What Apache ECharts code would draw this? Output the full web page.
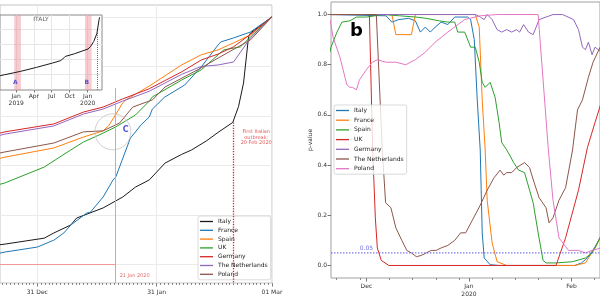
<!DOCTYPE html>
<html>
<head>
<meta charset="utf-8">
<script src="https://cdn.jsdelivr.net/npm/echarts@6/dist/echarts.min.js"></script>
<style>
  html, body { margin: 0; padding: 0; background: #fff; }
  #chart { width: 600px; height: 300px; }
</style>
</head>
<body>
<div id="chart"></div>
<script>
const FONT = 'DejaVu Sans';

const countries = ['Italy', 'France', 'Spain', 'UK', 'Germany', 'The Netherlands', 'Poland'];
const colorsA = ['#1a1a1a', '#1f77b4', '#ff7f0e', '#2ca02c', '#d62728', '#9467bd', '#8c564b'];
const colorsB = ['#1f77b4', '#ff7f0e', '#2ca02c', '#d62728', '#9467bd', '#8c564b', '#e377c2'];

// panel a : [days since 31 Dec 2019, normalised cumulative value]
const aItaly = [[-10,0.080],[-8.4,0.083],[1.8,0.107],[4.3,0.128],[8.7,0.160],[10.2,0.188],[17.1,0.229],[22.2,0.273],[25.5,0.313],[29.1,0.342],[33.2,0.41],[37.5,0.445],[40.1,0.463],[44,0.5],[47,0.534],[50.8,0.574],[52.3,0.638],[53.6,0.733],[54.9,0.919],[55.4,0.935],[61,1.0]];
const aFrance = [[-10,0.046],[-8.4,0.051],[0,0.071],[4.3,0.099],[6.9,0.128],[8.7,0.160],[12.8,0.208],[13.8,0.212],[17.1,0.273],[19.7,0.342],[20.4,0.354],[22,0.42],[24.2,0.511],[27,0.565],[29.1,0.596],[29.9,0.628],[33,0.675],[38.3,0.725],[42.6,0.798],[47,0.887],[47.7,0.899],[51,0.915],[55.4,0.939],[61,1.0]];
const aSpain = [[-10,0.428],[-8.4,0.434],[4.3,0.471],[12,0.515],[17.1,0.54],[18.5,0.56],[20,0.596],[22.2,0.653],[23,0.665],[29.1,0.721],[37.5,0.806],[42.6,0.847],[47,0.867],[51,0.895],[55.4,0.927],[61,1.0]];
const aUK = [[-10,0.323],[-8.4,0.33],[1.8,0.394],[8.7,0.463],[12,0.495],[17.1,0.531],[20.4,0.556],[25.5,0.604],[29.1,0.66],[29.9,0.677],[37.5,0.745],[42.6,0.786],[47,0.847],[48.5,0.867],[52.8,0.879],[55.4,0.919],[61,1.0]];
const aGermany = [[-10,0.53],[-8.4,0.536],[4.3,0.568],[12,0.616],[17.1,0.636],[22.2,0.669],[29.1,0.71],[37.5,0.778],[42.6,0.826],[47,0.85],[51,0.879],[55.4,0.93],[61,1.0]];
const aNetherlands = [[-10,0.521],[-8.4,0.527],[4.3,0.56],[12,0.608],[17.1,0.628],[22.2,0.66],[29.1,0.7],[37.5,0.768],[42.6,0.8],[47,0.806],[51,0.818],[55.4,0.915],[61,1.0]];
const aPoland = [[-10,0.45],[-8.4,0.455],[4.3,0.491],[12,0.536],[17.1,0.54],[21.4,0.572],[24.8,0.636],[29.9,0.665],[33.2,0.717],[42.6,0.794],[47,0.834],[55.4,0.907],[61,1.0]];
const aTickDays = [0, 31, 61];
const aTickLabels = ['31 Dec', '31 Jan', '01 Mar'];

// inset : [days since 1 Jan 2019, value]
const insetItaly = [[-90,0.92],[-58,1.0],[23,1.22],[104,1.48],[185,1.76],[225,1.91],[237,2.02],[250,2.19],[298,2.37],[367,2.68],[380,2.85],[396,3.17],[412,3.70],[417,3.82],[423,4.59],[426,4.75]];
const insetTickDays = [0, 90, 181, 273, 365];
const insetTickLabels = ['Jan\n2019', 'Apr', 'Jul', 'Oct', 'Jan\n2020'];

// panel b : [days since 1 Dec 2019, p-value]
const bItaly = [[-11,1],[5.9,0.995],[7.7,0.97],[9.8,0.98],[12.8,0.985],[14.8,0.975],[16.3,0.93],[17.8,0.95],[19.3,0.93],[20.8,0.95],[22.6,0.97],[24.6,0.96],[26.7,0.99],[30.6,0.99],[31.5,0.98],[32.6,0.9],[33.5,0.66],[34.4,0.46],[35,0.13],[35.6,0.03],[37.4,0.003],[40,0],[63,0],[65,0.01],[67.1,0.034],[69.1,0.074],[71,0.12]];
const bFrance = [[-11,1],[7.7,1],[8.9,0.92],[13.6,0.92],[14.8,1],[32.9,1],[34.1,0.95],[35,0.66],[35.9,0.46],[36.5,0.26],[38,0.09],[39.5,0.015],[42.4,0],[63,0],[66.2,0.01],[69.1,0.07],[71,0.12]];
const bSpain = [[-11,0.85],[-10.7,0.87],[-8.9,0.93],[-7.4,0.97],[-5,0.975],[-3,0.99],[0,0.99],[5,1],[10,0.995],[15,0.99],[18,0.985],[22,0.975],[24.6,0.97],[26.7,0.97],[27.6,0.93],[29.7,0.93],[31.5,0.87],[32.9,0.87],[34.1,0.81],[35,0.73],[35.9,0.71],[37.4,0.73],[38.9,0.67],[40.1,0.57],[40.9,0.49],[42.4,0.46],[43.3,0.44],[44.5,0.41],[46,0.38],[47.8,0.37],[50.4,0.25],[51.9,0.13],[53.4,0.02],[54.3,0.01],[57.3,0.01],[62.3,0.015],[66.2,0.03],[68.2,0.05],[69.1,0.07],[71,0.12]];
const bUK = [[-11,1],[0.9,1],[1.9,0.46],[2.7,0.19],[3.3,0.07],[4.5,0.02],[6.8,0],[57.3,0],[60.2,0.11],[64.1,0.3],[66.8,0.47],[69.1,0.57],[71,0.65]];
const bGermany = [[-11,1],[33,1],[34.4,0.99],[35.6,0.98],[36.5,1],[38,0.98],[39.5,0.94],[40.9,0.93],[42.4,0.94],[43.9,0.93],[45.4,0.94],[46.3,0.93],[47.5,0.96],[49,0.93],[50.4,0.92],[52.2,0.98],[54.3,0.99],[56.4,1],[59.3,1],[62.6,0.98],[64.1,0.94],[65.3,0.87],[66.2,0.86],[67.1,0.89],[68.2,0.84],[69.1,0.87],[71,0.85]];
const bNetherlands = [[-11,1],[3,1],[4.8,0.46],[5.8,0.25],[7.4,0.23],[8.9,0.15],[10.7,0.1],[12.2,0.06],[13.6,0.05],[15.1,0.035],[16.6,0.04],[18.1,0.05],[19.6,0.06],[21.1,0.06],[22.6,0.07],[24.6,0.08],[26.7,0.1],[28.5,0.13],[30,0.13],[32,0.18],[34.4,0.24],[36.5,0.3],[38.6,0.35],[40.4,0.38],[41.5,0.36],[42.4,0.37],[43.9,0.37],[45.4,0.39],[47.8,0.41],[49.3,0.39],[50.7,0.33],[52.2,0.27],[54.3,0.23],[55.2,0.17],[56.4,0.19],[58.2,0.26],[60.2,0.31],[62.3,0.46],[63.8,0.62],[65.3,0.66],[67.1,0.75],[68.5,0.81],[71,0.88]];
const bPoland = [[-11,0.98],[-10.7,0.96],[-10.1,0.91],[-8,0.83],[-5.9,0.72],[-5,0.71],[-4.2,0.71],[-3,0.7],[-2.1,0.74],[0,0.78],[1.8,0.81],[3.3,0.82],[5.9,0.81],[8.9,0.81],[11.9,0.8],[14.8,0.82],[17.8,0.85],[20.8,0.89],[24.6,0.93],[29.7,0.98],[34.4,0.995],[39.5,1],[51.9,1],[55,0.46],[56.4,0.26],[58.2,0.11],[61.1,0.06],[64.1,0.06],[66.2,0.05],[68.2,0.06],[71,0.07]];
const bTickDays = [0, 31, 62];
const bTickLabels = ['Dec', 'Jan\n2020', 'Feb'];
const bMinorDays = [-9, -2, 7, 14, 21, 28, 38, 45, 52, 59, 69];
const pTicks = [0, 0.2, 0.4, 0.6, 0.8, 1.0];
const pThreshold = 0.05;

const aData = [aItaly, aFrance, aSpain, aUK, aGermany, aNetherlands, aPoland];
const bData = [bItaly, bFrance, bSpain, bUK, bGermany, bNetherlands, bPoland];

// daily minor ticks for panel a
const aMinorDays = [];
for (let d = -9; d <= 61; d++) aMinorDays.push(d);

function labelFor(days, labels) {
  return v => { const i = days.indexOf(v); return i < 0 ? '' : labels[i]; };
}

function notes(xi, yi, z, items) {
  return {
    type: 'scatter', xAxisIndex: xi, yAxisIndex: yi, z: z, silent: true,
    symbolSize: 1, itemStyle: { color: 'rgba(0,0,0,0)' },
    data: items.map(n => ({
      value: [n.x, n.y],
      label: Object.assign({ show: true, position: 'inside', formatter: n.text, fontFamily: FONT }, n.style)
    }))
  };
}

const series = [];

aData.forEach((d, i) => {
  series.push({
    type: 'line', name: 'a:' + countries[i], xAxisIndex: 0, yAxisIndex: 0,
    data: d, showSymbol: false, z: 2,
    lineStyle: { width: 1, color: colorsA[i] }, itemStyle: { color: colorsA[i] }
  });
});

// reference lines in panel a
series[0].markLine = {
  silent: true, symbol: ['none', 'none'], label: { show: false },
  data: [
    [{ coord: [20.2, 0.713], lineStyle: { color: '#f09a9a', width: 1, type: 'solid' } }, { coord: [20.2, -0.074] }],
    [{ coord: [-9.7, 0.0], lineStyle: { color: '#f09a9a', width: 1, type: 'solid' } }, { coord: [20.2, 0.0] }],
    [{ coord: [51, 0.574], lineStyle: { color: '#d62728', width: 1.3, type: 'dotted' } }, { coord: [51, -0.074] }]
  ]
};

// circle around region C
series.push({
  type: 'scatter', xAxisIndex: 0, yAxisIndex: 0, silent: true, z: 3,
  symbol: 'circle', symbolSize: 36,
  itemStyle: { color: 'rgba(0,0,0,0)', borderColor: '#c4c4c4', borderWidth: 1 },
  data: [[19.65, 0.536]]
});

series.push(notes(0, 0, 9, [
  { x: 21.4, y: -0.046, text: '21 Jan 2020', style: { align: 'left', fontSize: 5, color: '#e04848' } },
  { x: 56.9, y: 0.513, text: 'First Italian\noutbreak:\n20 Feb 2020', style: { align: 'center', fontSize: 5, lineHeight: 5.6, color: '#e03030' } },
  { x: 23.0, y: 0.544, text: 'C', style: { fontSize: 8, fontWeight: 'bold', color: '#2626c8' } }
]));

// inset
series.push({
  type: 'line', name: 'inset', xAxisIndex: 2, yAxisIndex: 1, z: 8,
  data: insetItaly, showSymbol: false,
  lineStyle: { width: 1, color: '#1a1a1a' },
  markArea: {
    silent: true, z: 6, itemStyle: { color: 'rgba(240,140,152,0.45)' },
    data: [[{ xAxis: -10 }, { xAxis: 24 }], [{ xAxis: 351 }, { xAxis: 385 }]]
  },
  markLine: {
    silent: true, z: 7, symbol: ['none', 'none'], label: { show: false },
    lineStyle: { color: '#e04040', width: 1, type: 'dotted' },
    data: [[{ coord: [414, 3.72] }, { coord: [414, 0] }]]
  }
});
series.push(notes(2, 1, 9, [
  { x: 126.5, y: 4.59, text: 'ITALY', style: { fontSize: 6, color: '#333' } },
  { x: -5, y: 0.48, text: 'A', style: { fontSize: 6, fontWeight: 'bold', color: '#3030c8' } },
  { x: 360, y: 0.48, text: 'B', style: { fontSize: 6, fontWeight: 'bold', color: '#3030c8' } }
]));

// 0.05 significance level across panel b
series.push({
  type: 'line', name: 'threshold', xAxisIndex: 3, yAxisIndex: 2, z: 3, silent: true,
  data: [[-10.7, pThreshold], [70.6, pThreshold]], showSymbol: false,
  lineStyle: { color: '#5c5ce6', width: 1, type: [1.5, 1.5] }
});

bData.forEach((d, i) => {
  series.push({
    type: 'line', name: 'b:' + countries[i], xAxisIndex: 3, yAxisIndex: 2,
    data: d, showSymbol: false, z: 2,
    lineStyle: { width: 1, color: colorsB[i] }, itemStyle: { color: colorsB[i] }
  });
});
series.push(notes(3, 2, 9, [
  { x: 0, y: 0.066, text: '0.05', style: { fontSize: 6, color: '#4a4ad8' } }
]));

const axisText = { fontFamily: FONT, fontSize: 6, color: '#333' };
const legendBase = {
  orient: 'vertical', icon: 'rect', itemWidth: 13, itemHeight: 1.3,
  formatter: n => n.slice(2),
  textStyle: { fontFamily: FONT, fontSize: 6, lineHeight: 7, color: '#222' },
  padding: [2, 3, 2, 2], borderColor: '#d0d0d0', borderWidth: 0.8, borderRadius: 2,
  backgroundColor: 'rgba(255,255,255,0.8)'
};
const noLine = { show: false, onZero: false };

const option = {
  animation: false,
  backgroundColor: '#fff',
  title: { text: 'b', left: 350, top: 22, padding: 0, textStyle: { fontFamily: FONT, fontSize: 18, fontWeight: 'bold', color: '#000' } },
  legend: [
    Object.assign({}, legendBase, { left: 198, top: 216, itemGap: 1.8, data: countries.map(c => 'a:' + c) }),
    Object.assign({}, legendBase, { left: 334, top: 105, itemGap: 2.7, data: countries.map(c => 'b:' + c) })
  ],
  grid: [
    { left: -5, top: 5, width: 277, height: 278, show: true, borderColor: '#c4c4c4', borderWidth: 1 },
    { left: -5, top: 15, width: 107, height: 75, show: true, backgroundColor: '#fff', borderColor: '#8a8a8a', borderWidth: 1, z: 5 },
    { left: 331, top: 2, width: 274, height: 276, show: true, borderColor: '#a0a0a0', borderWidth: 1 }
  ],
  xAxis: [
    { type: 'value', gridIndex: 0, position: 'bottom', min: -9.7, max: 61,
      axisLine: noLine,
      axisTick: { customValues: aTickDays, length: 3.5, lineStyle: { color: '#777' } },
      axisLabel: Object.assign({ customValues: aTickDays, formatter: labelFor(aTickDays, aTickLabels), margin: 6 }, axisText),
      splitLine: { show: true, lineStyle: { color: '#ebebeb', width: 1 } } },
    { type: 'value', gridIndex: 0, position: 'bottom', min: -9.7, max: 61,
      axisLine: noLine,
      axisTick: { customValues: aMinorDays, length: 2, lineStyle: { color: '#888' } },
      axisLabel: { show: false }, splitLine: { show: false } },
    { type: 'value', gridIndex: 1, position: 'bottom', min: -82.7, max: 438, z: 6,
      axisLine: noLine,
      axisTick: { customValues: insetTickDays, length: 2.5, lineStyle: { color: '#777' } },
      axisLabel: Object.assign({ customValues: insetTickDays, formatter: labelFor(insetTickDays, insetTickLabels), margin: 3, lineHeight: 7 }, axisText),
      splitLine: { show: true, lineStyle: { color: '#e6e6e6', width: 1 } } },
    { type: 'value', gridIndex: 2, position: 'bottom', min: -10.7, max: 70.6,
      axisLine: noLine,
      axisTick: { customValues: bTickDays, length: 3.5, lineStyle: { color: '#777' } },
      axisLabel: Object.assign({ customValues: bTickDays, formatter: labelFor(bTickDays, bTickLabels), margin: 4, lineHeight: 8 }, axisText),
      splitLine: { show: false } },
    { type: 'value', gridIndex: 2, position: 'bottom', min: -10.7, max: 70.6,
      axisLine: noLine,
      axisTick: { customValues: bMinorDays, length: 2, lineStyle: { color: '#888' } },
      axisLabel: { show: false }, splitLine: { show: false } }
  ],
  yAxis: [
    { type: 'value', gridIndex: 0, position: 'left', min: -0.074, max: 1.048,
      axisLine: noLine, axisLabel: { show: false },
      axisTick: { show: false, customValues: pTicks },
      splitLine: { show: true, lineStyle: { color: '#ebebeb', width: 1 } } },
    { type: 'value', gridIndex: 1, position: 'left', min: 0, max: 4.9, z: 6,
      axisLine: noLine, axisLabel: { show: false },
      axisTick: { show: false, customValues: [1, 2, 3, 4] },
      splitLine: { show: true, lineStyle: { color: '#e6e6e6', width: 1 } } },
    { type: 'value', gridIndex: 2, position: 'left', min: -0.05, max: 1.05,
      axisLine: noLine,
      axisTick: { customValues: pTicks, length: 3.5, lineStyle: { color: '#777' } },
      axisLabel: Object.assign({ customValues: pTicks, formatter: v => v.toFixed(1), margin: 4 }, axisText),
      splitLine: { show: false },
      name: 'p-value', nameLocation: 'middle', nameRotate: 90, nameGap: 15,
      nameTextStyle: { fontFamily: FONT, fontSize: 6, color: '#333' } }
  ],
  series: series
};

const chart = echarts.init(document.getElementById('chart'), null, { renderer: 'canvas' });
chart.setOption(option);
</script>
</body>
</html>
